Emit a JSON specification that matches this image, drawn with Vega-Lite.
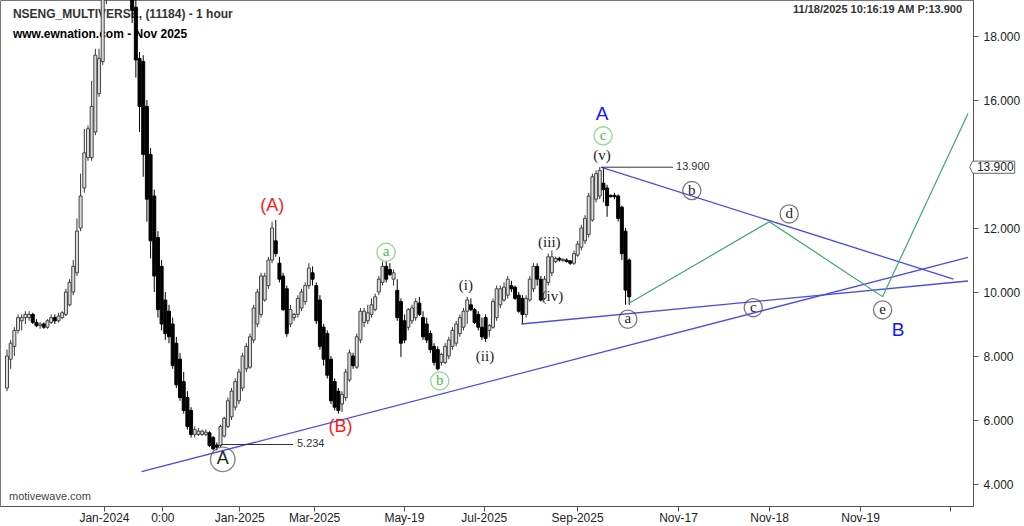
{
"$schema": "https://vega.github.io/schema/vega-lite/v6.json",
"width": 973, "height": 506,
"autosize": {"type": "none"},
"padding": {"left": 0, "top": 0, "right": 51, "bottom": 20},
"background": "white",
"config": {"view": {"stroke": "#777"}, "axis": {"labelFont": "Liberation Sans", "labelFontSize": 12, "labelColor": "#222", "tickColor": "#555", "domainColor": "#555", "grid": false}},
"datasets": {
"candles": [
{"i":0,"o":7.0,"h":8.2,"l":6.9,"c":8.0},{"i":1,"o":7.9,"h":8.5,"l":7.6,"c":8.4},{"i":2,"o":8.3,"h":8.9,"l":8.0,"c":8.8},{"i":3,"o":8.8,"h":9.3,"l":8.7,"c":9.2},{"i":4,"o":9.1,"h":9.3,"l":8.8,"c":9.2},{"i":5,"o":9.2,"h":9.4,"l":9.0,"c":9.3},{"i":6,"o":9.2,"h":9.4,"l":9.1,"c":9.3},{"i":7,"o":9.3,"h":9.35,"l":9.0,"c":9.05},{"i":8,"o":9.05,"h":9.15,"l":8.9,"c":8.95},{"i":9,"o":8.95,"h":9.05,"l":8.85,"c":9.0},
{"i":10,"o":9.0,"h":9.05,"l":8.85,"c":8.9},{"i":11,"o":8.9,"h":9.15,"l":8.85,"c":9.1},{"i":12,"o":9.05,"h":9.3,"l":9.0,"c":9.2},{"i":13,"o":9.2,"h":9.3,"l":9.0,"c":9.1},{"i":14,"o":9.1,"h":9.35,"l":9.05,"c":9.25},{"i":15,"o":9.2,"h":9.4,"l":9.15,"c":9.35},{"i":16,"o":9.3,"h":10.1,"l":9.25,"c":10.0},{"i":17,"o":9.6,"h":10.4,"l":9.55,"c":10.3},{"i":18,"o":10.0,"h":11.0,"l":9.9,"c":10.8},{"i":19,"o":10.6,"h":12.3,"l":10.5,"c":11.9},
{"i":20,"o":12.0,"h":13.7,"l":11.9,"c":13.0},{"i":21,"o":13.25,"h":15.1,"l":13.1,"c":14.35},{"i":22,"o":14.2,"h":15.2,"l":14.1,"c":15.1},{"i":23,"o":14.2,"h":16.6,"l":14.1,"c":15.8},{"i":24,"o":15.0,"h":17.6,"l":14.9,"c":17.4},{"i":25,"o":16.2,"h":17.6,"l":16.1,"c":17.3},{"i":26,"o":17.2,"h":19.6,"l":17.1,"c":19.4},{"i":27,"o":19.2,"h":20.6,"l":19.0,"c":20.3},{"i":28,"o":20.2,"h":21.3,"l":19.8,"c":21.0},{"i":29,"o":21.0,"h":22.0,"l":20.6,"c":21.7},
{"i":30,"o":21.7,"h":22.4,"l":21.2,"c":22.1},{"i":31,"o":22.1,"h":22.5,"l":21.3,"c":21.5},{"i":32,"o":21.5,"h":21.8,"l":20.6,"c":20.9},{"i":33,"o":20.9,"h":21.2,"l":19.8,"c":20.1},{"i":34,"o":20.1,"h":20.3,"l":18.4,"c":18.8},{"i":35,"o":18.9,"h":19.3,"l":16.7,"c":17.25},{"i":36,"o":17.3,"h":17.5,"l":15.0,"c":15.8},{"i":37,"o":17.2,"h":17.4,"l":13.6,"c":14.3},{"i":38,"o":15.8,"h":16.0,"l":12.2,"c":12.9},{"i":39,"o":14.3,"h":14.5,"l":11.05,"c":11.6},
{"i":40,"o":13.0,"h":13.2,"l":10.0,"c":10.5},{"i":41,"o":11.7,"h":11.9,"l":9.2,"c":9.45},{"i":42,"o":10.8,"h":11.0,"l":8.8,"c":9.0},{"i":43,"o":9.75,"h":10.0,"l":8.5,"c":8.7},{"i":44,"o":9.4,"h":9.6,"l":8.4,"c":8.6},{"i":45,"o":9.0,"h":9.2,"l":7.6,"c":7.7},{"i":46,"o":8.4,"h":8.6,"l":7.0,"c":7.1},{"i":47,"o":7.9,"h":8.1,"l":6.6,"c":6.7},{"i":48,"o":7.2,"h":7.5,"l":6.2,"c":6.3},{"i":49,"o":6.7,"h":6.9,"l":5.7,"c":5.8},
{"i":50,"o":6.3,"h":6.4,"l":5.45,"c":5.55},{"i":51,"o":5.55,"h":5.8,"l":5.45,"c":5.7},{"i":52,"o":5.55,"h":5.75,"l":5.5,"c":5.65},{"i":53,"o":5.55,"h":5.7,"l":5.5,"c":5.65},{"i":54,"o":5.55,"h":5.7,"l":5.5,"c":5.62},{"i":55,"o":5.6,"h":5.65,"l":5.15,"c":5.2},{"i":56,"o":5.45,"h":5.5,"l":5.05,"c":5.1},{"i":57,"o":5.22,"h":5.3,"l":5.05,"c":5.15},{"i":58,"o":5.2,"h":5.85,"l":5.15,"c":5.8},{"i":59,"o":5.5,"h":6.1,"l":5.45,"c":6.05},
{"i":60,"o":5.8,"h":6.7,"l":5.75,"c":6.6},{"i":61,"o":6.1,"h":7.0,"l":6.0,"c":6.9},{"i":62,"o":6.4,"h":7.3,"l":6.3,"c":7.2},{"i":63,"o":6.6,"h":7.6,"l":6.5,"c":7.5},{"i":64,"o":7.0,"h":8.1,"l":6.9,"c":8.0},{"i":65,"o":7.6,"h":8.4,"l":7.5,"c":8.3},{"i":66,"o":7.65,"h":8.7,"l":7.6,"c":8.6},{"i":67,"o":8.5,"h":9.6,"l":8.4,"c":9.5},{"i":68,"o":9.0,"h":10.1,"l":8.9,"c":10.0},{"i":69,"o":9.3,"h":10.6,"l":9.2,"c":10.5},
{"i":70,"o":9.75,"h":10.6,"l":9.7,"c":10.5},{"i":71,"o":10.2,"h":11.1,"l":10.1,"c":11.0},{"i":72,"o":11.0,"h":12.2,"l":10.9,"c":12.0},{"i":73,"o":11.6,"h":12.25,"l":11.1,"c":11.2},{"i":74,"o":10.9,"h":11.1,"l":10.3,"c":10.4},{"i":75,"o":10.5,"h":10.6,"l":9.4,"c":9.45},{"i":76,"o":10.1,"h":10.2,"l":8.6,"c":8.7},{"i":77,"o":9.0,"h":9.6,"l":8.9,"c":9.45},{"i":78,"o":9.2,"h":9.35,"l":9.1,"c":9.3},{"i":79,"o":9.3,"h":9.9,"l":9.2,"c":9.8},
{"i":80,"o":9.5,"h":10.1,"l":9.4,"c":10.0},{"i":81,"o":9.7,"h":10.3,"l":9.6,"c":10.2},{"i":82,"o":10.2,"h":10.9,"l":10.1,"c":10.75},{"i":83,"o":10.6,"h":10.8,"l":10.2,"c":10.4},{"i":84,"o":10.2,"h":10.3,"l":9.0,"c":9.1},{"i":85,"o":9.75,"h":9.9,"l":8.2,"c":8.3},{"i":86,"o":8.9,"h":9.0,"l":7.7,"c":7.9},{"i":87,"o":8.7,"h":8.8,"l":7.3,"c":7.4},{"i":88,"o":7.9,"h":8.0,"l":6.5,"c":6.6},{"i":89,"o":7.2,"h":7.3,"l":6.3,"c":6.4},
{"i":90,"o":6.9,"h":7.0,"l":6.2,"c":6.3},{"i":91,"o":6.5,"h":6.9,"l":6.25,"c":6.8},{"i":92,"o":6.7,"h":7.6,"l":6.6,"c":7.5},{"i":93,"o":7.25,"h":8.2,"l":7.2,"c":8.1},{"i":94,"o":8.0,"h":8.1,"l":7.6,"c":7.7},{"i":95,"o":7.65,"h":8.7,"l":7.6,"c":8.6},{"i":96,"o":8.5,"h":9.5,"l":8.4,"c":9.4},{"i":97,"o":9.05,"h":9.5,"l":8.9,"c":9.4},{"i":98,"o":9.1,"h":9.6,"l":9.0,"c":9.35},{"i":99,"o":9.3,"h":9.8,"l":9.2,"c":9.6},
{"i":100,"o":9.45,"h":9.95,"l":9.4,"c":9.85},{"i":101,"o":10.0,"h":10.5,"l":9.9,"c":10.4},{"i":102,"o":10.3,"h":10.95,"l":10.2,"c":10.8},{"i":103,"o":10.8,"h":10.95,"l":10.3,"c":10.4},{"i":104,"o":10.7,"h":10.9,"l":10.5,"c":10.55},{"i":105,"o":10.4,"h":10.7,"l":10.2,"c":10.6},{"i":106,"o":10.05,"h":10.4,"l":9.1,"c":9.2},{"i":107,"o":9.7,"h":9.8,"l":7.97,"c":8.4},{"i":108,"o":9.1,"h":9.3,"l":8.4,"c":8.5},{"i":109,"o":8.9,"h":9.5,"l":8.8,"c":9.45},
{"i":110,"o":9.1,"h":9.6,"l":9.0,"c":9.5},{"i":111,"o":9.2,"h":9.8,"l":9.1,"c":9.7},{"i":112,"o":9.65,"h":9.85,"l":9.25,"c":9.3},{"i":113,"o":9.2,"h":9.4,"l":8.5,"c":8.6},{"i":114,"o":9.0,"h":9.2,"l":8.4,"c":8.5},{"i":115,"o":8.7,"h":8.8,"l":8.1,"c":8.2},{"i":116,"o":8.3,"h":8.4,"l":7.7,"c":7.8},{"i":117,"o":8.2,"h":8.3,"l":7.55,"c":7.6},{"i":118,"o":7.8,"h":8.1,"l":7.7,"c":8.05},{"i":119,"o":7.8,"h":8.4,"l":7.75,"c":8.3},
{"i":120,"o":8.0,"h":8.6,"l":7.9,"c":8.5},{"i":121,"o":8.3,"h":8.9,"l":8.2,"c":8.8},{"i":122,"o":8.4,"h":9.1,"l":8.3,"c":9.0},{"i":123,"o":8.7,"h":9.3,"l":8.6,"c":9.2},{"i":124,"o":8.9,"h":9.5,"l":8.8,"c":9.4},{"i":125,"o":9.4,"h":9.85,"l":9.0,"c":9.75},{"i":126,"o":9.6,"h":9.8,"l":9.4,"c":9.45},{"i":127,"o":9.45,"h":9.5,"l":9.0,"c":9.05},{"i":128,"o":9.3,"h":9.4,"l":8.8,"c":8.9},{"i":129,"o":8.9,"h":9.2,"l":8.5,"c":8.6},
{"i":130,"o":9.2,"h":9.3,"l":8.44,"c":8.55},{"i":131,"o":8.8,"h":9.0,"l":8.6,"c":8.95},{"i":132,"o":8.9,"h":9.8,"l":8.85,"c":9.7},{"i":133,"o":9.2,"h":10.2,"l":9.1,"c":10.1},{"i":134,"o":9.6,"h":10.2,"l":9.5,"c":10.1},{"i":135,"o":9.75,"h":10.3,"l":9.7,"c":10.15},{"i":136,"o":9.9,"h":10.5,"l":9.8,"c":10.4},{"i":137,"o":10.2,"h":10.35,"l":10.0,"c":10.1},{"i":138,"o":10.15,"h":10.2,"l":9.75,"c":9.8},{"i":139,"o":9.9,"h":10.0,"l":9.35,"c":9.4},
{"i":140,"o":9.8,"h":9.9,"l":9.0,"c":9.3},{"i":141,"o":9.3,"h":9.9,"l":9.2,"c":9.8},{"i":142,"o":9.75,"h":10.5,"l":9.7,"c":10.4},{"i":143,"o":10.1,"h":10.9,"l":10.0,"c":10.8},{"i":144,"o":10.8,"h":10.9,"l":10.2,"c":10.4},{"i":145,"o":10.4,"h":10.5,"l":9.7,"c":9.75},{"i":146,"o":9.8,"h":10.5,"l":9.75,"c":10.4},{"i":147,"o":10.3,"h":11.2,"l":10.2,"c":11.1},{"i":148,"o":10.6,"h":11.3,"l":10.5,"c":11.1},{"i":149,"o":10.95,"h":11.1,"l":10.9,"c":11.05},
{"i":150,"o":11.05,"h":11.1,"l":10.95,"c":11.0},{"i":151,"o":10.98,"h":11.05,"l":10.95,"c":11.02},{"i":152,"o":11.0,"h":11.05,"l":10.92,"c":10.95},{"i":153,"o":10.97,"h":11.0,"l":10.85,"c":10.9},{"i":154,"o":10.9,"h":11.3,"l":10.85,"c":11.2},{"i":155,"o":11.15,"h":11.6,"l":11.1,"c":11.5},{"i":156,"o":11.4,"h":12.1,"l":11.3,"c":12.0},{"i":157,"o":11.6,"h":12.4,"l":11.5,"c":12.3},{"i":158,"o":11.8,"h":13.1,"l":11.7,"c":13.0},{"i":159,"o":12.25,"h":13.7,"l":12.2,"c":13.6},
{"i":160,"o":12.9,"h":13.8,"l":12.8,"c":13.7},{"i":161,"o":13.0,"h":13.9,"l":12.9,"c":13.8},{"i":162,"o":13.4,"h":13.9,"l":12.8,"c":13.2},{"i":163,"o":13.25,"h":13.35,"l":12.35,"c":12.7},{"i":164,"o":13.02,"h":13.05,"l":12.95,"c":12.98},{"i":165,"o":13.02,"h":13.1,"l":12.9,"c":12.98},{"i":166,"o":13.0,"h":13.05,"l":12.2,"c":12.3},{"i":167,"o":12.65,"h":12.7,"l":11.0,"c":11.2},{"i":168,"o":11.9,"h":12.0,"l":9.6,"c":10.06},{"i":169,"o":11.0,"h":11.05,"l":9.6,"c":9.85}
],
"trend": [{"id":"L1","i":36.56,"p":4.384},{"id":"L1","i":261.02,"p":11.084},{"id":"L2","i":161.29,"p":13.9},{"id":"L2","i":257.07,"p":10.406},{"id":"L3","i":139.7,"p":9.0},{"id":"L3","i":261.02,"p":10.344}],
"zig": [{"i":169.09,"p":9.656},{"i":207.07,"p":12.197},{"i":237.82,"p":9.853},{"i":261.02,"p":15.58}],
"levels": [{"i":58.06,"i2":77.69,"p":5.234},{"i":161.56,"i2":180.91,"p":13.9}],
"labels": [
{"g":"circG","t":"a","i":102.96,"p":11.24},{"g":"circG","t":"b","i":117.55,"p":7.22},{"g":"circG","t":"c","i":161.91,"p":14.88},
{"g":"circK","t":"a","i":168.63,"p":9.15},{"g":"circK","t":"b","i":186.02,"p":13.17},{"g":"circK","t":"c","i":202.69,"p":9.51},{"g":"circK","t":"d","i":212.45,"p":12.44},{"g":"circK","t":"e","i":237.82,"p":9.44},
{"g":"circA","t":"A","i":58.6,"p":4.77},
{"g":"wave","t":"(i)","i":124.65,"p":10.22},{"g":"wave","t":"(ii)","i":129.84,"p":8.0},{"g":"wave","t":"(iii)","i":147.31,"p":11.57},{"g":"wave","t":"(iv)","i":148.12,"p":9.875},{"g":"wave","t":"(v)","i":161.64,"p":14.28},
{"g":"red","t":"(A)","i":72.04,"p":12.69},{"g":"red","t":"(B)","i":90.59,"p":5.79},
{"g":"blue","t":"A","i":161.64,"p":15.56},{"g":"blue","t":"B","i":242.02,"p":8.81},
{"g":"lvl","t":"5.234","i":78.76,"p":5.25},{"g":"lvl","t":"13.900","i":181.72,"p":13.9},
{"g":"head1","t":"NSENG_MULTIVERSE, (11184) - 1 hour","i":1.61,"p":18.69},
{"g":"head2","t":"www.ewnation.com  - Nov 2025","i":1.61,"p":18.06},
{"g":"date","t":"11/18/2025 10:16:19 AM  P:13.900","i":259.41,"p":18.81},
{"g":"brand","t":"motivewave.com","i":0.54,"p":3.59},
{"g":"pbox","t":"13.900","i":267.6,"p":13.9}
]
},
"encoding": {
"x": {"field": "i", "type": "quantitative", "title": null,
 "scale": {"domain": [-0.54, 261.02], "nice": false, "zero": false},
 "axis": {"orient": "bottom", "values": [26.34,42.2,63.09,83.41,107.8,129.49,154.84,182.26,206.99,231.72,256.18],
  "labelExpr": "['Jan-2024','0:00','Jan-2025','Mar-2025','May-19','Jul-2025','Sep-2025','Nov-17','Nov-18','Nov-19',''][indexof([26.34,42.2,63.09,83.41,107.8,129.49,154.84,182.26,206.99,231.72,256.18], datum.value)]",
  "tickSize": 5, "labelPadding": 1, "labelOverlap": false, "labelFlush": false, "domainColor": "#555"}},
"y": {"field": "p", "type": "quantitative", "title": null,
 "scale": {"domain": [3.3125, 19.125], "nice": false, "zero": false},
 "axis": {"orient": "right", "values": [4, 6, 8, 10, 12, 16, 18], "format": ".3f",
  "tickSize": 5, "labelPadding": 5, "labelOverlap": false, "labelBound": false, "labelFlush": false, "domainColor": "#555"}}
},
"layer": [
{"data": {"name": "labels"}, "transform": [{"filter": "datum.g === 'head1'"}],
 "mark": {"type": "text", "align": "left", "baseline": "middle", "font": "Liberation Sans", "fontWeight": "bold", "fontSize": 12, "color": "#333"},
 "encoding": {"text": {"field": "t"}}},
{"data": {"name": "labels"}, "transform": [{"filter": "datum.g === 'head2'"}],
 "mark": {"type": "text", "align": "left", "baseline": "middle", "font": "Liberation Sans", "fontWeight": "bold", "fontSize": 12, "color": "#000"},
 "encoding": {"text": {"field": "t"}}},
{"data": {"name": "labels"}, "transform": [{"filter": "datum.g === 'date'"}],
 "mark": {"type": "text", "align": "right", "baseline": "middle", "font": "Liberation Sans", "fontWeight": "bold", "fontSize": 11, "color": "#333"},
 "encoding": {"text": {"field": "t"}}},
{"data": {"name": "labels"}, "transform": [{"filter": "datum.g === 'brand'"}],
 "mark": {"type": "text", "align": "left", "baseline": "middle", "font": "Liberation Sans", "fontSize": 11, "color": "#444"},
 "encoding": {"text": {"field": "t"}}},
{"data": {"name": "candles"},
 "mark": {"type": "rule", "clip": true, "strokeWidth": 1},
 "encoding": {"y": {"field": "l", "type": "quantitative", "title": null}, "y2": {"field": "h"},
  "color": {"condition": {"test": "datum.c >= datum.o", "value": "#333"}, "value": "#000"}}},
{"data": {"name": "candles"},
 "mark": {"type": "bar", "clip": true, "size": 3, "strokeWidth": 1},
 "encoding": {"y": {"field": "o", "type": "quantitative", "title": null}, "y2": {"field": "c"},
  "fill": {"condition": {"test": "datum.c >= datum.o", "value": "#dddddd"}, "value": "#000"},
  "stroke": {"condition": {"test": "datum.c >= datum.o", "value": "#444"}, "value": "#000"}}},
{"data": {"name": "trend"},
 "mark": {"type": "line", "clip": true, "color": "#4a4af0", "strokeWidth": 1.3},
 "encoding": {"detail": {"field": "id"}, "order": {"field": "i"}}},
{"data": {"name": "zig"},
 "mark": {"type": "line", "clip": true, "color": "#3ea86a", "strokeWidth": 1.2},
 "encoding": {"order": {"field": "i"}}},
{"data": {"name": "levels"},
 "mark": {"type": "rule", "color": "#333", "strokeWidth": 1},
 "encoding": {"x2": {"field": "i2"}}},
{"data": {"name": "labels"}, "transform": [{"filter": "datum.g === 'circG'"}],
 "mark": {"type": "point", "shape": "circle", "filled": false, "size": 330, "color": "#66c866", "strokeWidth": 1.3},
 "encoding": {}},
{"data": {"name": "labels"}, "transform": [{"filter": "datum.g === 'circK'"}],
 "mark": {"type": "point", "shape": "circle", "filled": false, "size": 330, "color": "#444", "strokeWidth": 1.3},
 "encoding": {}},
{"data": {"name": "labels"}, "transform": [{"filter": "datum.g === 'circA'"}],
 "mark": {"type": "point", "shape": "circle", "filled": false, "size": 600, "color": "#555", "strokeWidth": 1.4},
 "encoding": {}},
{"data": {"name": "labels"}, "transform": [{"filter": "datum.g === 'circG'"}],
 "mark": {"type": "text", "align": "center", "baseline": "middle", "dy": -1, "font": "Liberation Serif", "fontSize": 15, "color": "#4fb84f"},
 "encoding": {"text": {"field": "t"}}},
{"data": {"name": "labels"}, "transform": [{"filter": "datum.g === 'circK'"}],
 "mark": {"type": "text", "align": "center", "baseline": "middle", "dy": -1, "font": "Liberation Serif", "fontSize": 15, "color": "#222"},
 "encoding": {"text": {"field": "t"}}},
{"data": {"name": "labels"}, "transform": [{"filter": "datum.g === 'circA'"}],
 "mark": {"type": "text", "align": "center", "baseline": "middle", "font": "Liberation Sans", "fontSize": 18, "color": "#222"},
 "encoding": {"text": {"field": "t"}}},
{"data": {"name": "labels"}, "transform": [{"filter": "datum.g === 'wave'"}],
 "mark": {"type": "text", "align": "center", "baseline": "middle", "font": "Liberation Serif", "fontSize": 15, "color": "#222"},
 "encoding": {"text": {"field": "t"}}},
{"data": {"name": "labels"}, "transform": [{"filter": "datum.g === 'red'"}],
 "mark": {"type": "text", "align": "center", "baseline": "middle", "font": "Liberation Sans", "fontSize": 18, "color": "#ff1a1a"},
 "encoding": {"text": {"field": "t"}}},
{"data": {"name": "labels"}, "transform": [{"filter": "datum.g === 'blue'"}],
 "mark": {"type": "text", "align": "center", "baseline": "middle", "font": "Liberation Sans", "fontSize": 19, "color": "#1515ff"},
 "encoding": {"text": {"field": "t"}}},
{"data": {"name": "labels"}, "transform": [{"filter": "datum.g === 'lvl'"}],
 "mark": {"type": "text", "align": "left", "baseline": "middle", "font": "Liberation Sans", "fontSize": 11, "color": "#333"},
 "encoding": {"text": {"field": "t"}}},
{"data": {"name": "labels"}, "transform": [{"filter": "datum.g === 'pbox'"}],
 "mark": {"type": "point", "shape": "M -1 0 L -0.87 -0.27 L 1 -0.27 L 1 0.27 L -0.87 0.27 Z", "size": 2025, "filled": true, "fill": "#fff", "stroke": "#666", "strokeWidth": 1, "opacity": 1},
 "encoding": {}},
{"data": {"name": "labels"}, "transform": [{"filter": "datum.g === 'pbox'"}],
 "mark": {"type": "text", "align": "center", "baseline": "middle", "dx": 3, "font": "Liberation Sans", "fontSize": 12, "color": "#222"},
 "encoding": {"text": {"field": "t"}}}
]
}
